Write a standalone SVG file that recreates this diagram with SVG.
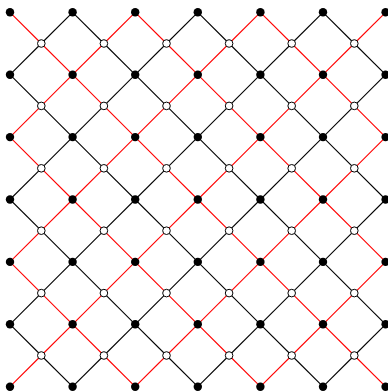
<svg xmlns="http://www.w3.org/2000/svg" width="388" height="392" viewBox="0 0 388 392">
<style>
.r{stroke:#ff0000;stroke-width:1.1;fill:none}
.k{stroke:#000000;stroke-width:1.1;fill:none}
.b{fill:#000000}
.w{fill:#ffffff;stroke:#000000;stroke-width:1}
</style>
<rect width="388" height="392" fill="#ffffff"/>
<g id="connectors">
<!-- row j=0, wy=43.5 -->
<path class="r" d="M41.3 43.5l-31.3-31.2"/><path class="r" d="M41.3 43.5l31.3 31.2"/><path class="k" d="M41.3 43.5l31.3-31.2"/><path class="k" d="M41.3 43.5l-31.3 31.2"/>
<path class="k" d="M103.9 43.5l-31.3-31.2"/><path class="k" d="M103.9 43.5l31.3 31.2"/><path class="r" d="M103.9 43.5l31.3-31.2"/><path class="r" d="M103.9 43.5l-31.3 31.2"/>
<path class="r" d="M166.5 43.5l-31.3-31.2"/><path class="r" d="M166.5 43.5l31.3 31.2"/><path class="k" d="M166.5 43.5l31.3-31.2"/><path class="k" d="M166.5 43.5l-31.3 31.2"/>
<path class="k" d="M229.1 43.5l-31.3-31.2"/><path class="k" d="M229.1 43.5l31.3 31.2"/><path class="r" d="M229.1 43.5l31.3-31.2"/><path class="r" d="M229.1 43.5l-31.3 31.2"/>
<path class="r" d="M291.7 43.5l-31.3-31.2"/><path class="r" d="M291.7 43.5l31.3 31.2"/><path class="k" d="M291.7 43.5l31.3-31.2"/><path class="k" d="M291.7 43.5l-31.3 31.2"/>
<path class="k" d="M354.3 43.5l-31.3-31.2"/><path class="k" d="M354.3 43.5l31.3 31.2"/><path class="r" d="M354.3 43.5l31.3-31.2"/><path class="r" d="M354.3 43.5l-31.3 31.2"/>
<!-- row j=1, wy=105.9 -->
<path class="k" d="M41.3 105.9l-31.3-31.2"/><path class="k" d="M41.3 105.9l31.3 31.2"/><path class="r" d="M41.3 105.9l31.3-31.2"/><path class="r" d="M41.3 105.9l-31.3 31.2"/>
<path class="r" d="M103.9 105.9l-31.3-31.2"/><path class="r" d="M103.9 105.9l31.3 31.2"/><path class="k" d="M103.9 105.9l31.3-31.2"/><path class="k" d="M103.9 105.9l-31.3 31.2"/>
<path class="k" d="M166.5 105.9l-31.3-31.2"/><path class="k" d="M166.5 105.9l31.3 31.2"/><path class="r" d="M166.5 105.9l31.3-31.2"/><path class="r" d="M166.5 105.9l-31.3 31.2"/>
<path class="r" d="M229.1 105.9l-31.3-31.2"/><path class="r" d="M229.1 105.9l31.3 31.2"/><path class="k" d="M229.1 105.9l31.3-31.2"/><path class="k" d="M229.1 105.9l-31.3 31.2"/>
<path class="k" d="M291.7 105.9l-31.3-31.2"/><path class="k" d="M291.7 105.9l31.3 31.2"/><path class="r" d="M291.7 105.9l31.3-31.2"/><path class="r" d="M291.7 105.9l-31.3 31.2"/>
<path class="r" d="M354.3 105.9l-31.3-31.2"/><path class="r" d="M354.3 105.9l31.3 31.2"/><path class="k" d="M354.3 105.9l31.3-31.2"/><path class="k" d="M354.3 105.9l-31.3 31.2"/>
<!-- row j=2, wy=168.3 -->
<path class="r" d="M41.3 168.3l-31.3-31.2"/><path class="r" d="M41.3 168.3l31.3 31.2"/><path class="k" d="M41.3 168.3l31.3-31.2"/><path class="k" d="M41.3 168.3l-31.3 31.2"/>
<path class="k" d="M103.9 168.3l-31.3-31.2"/><path class="k" d="M103.9 168.3l31.3 31.2"/><path class="r" d="M103.9 168.3l31.3-31.2"/><path class="r" d="M103.9 168.3l-31.3 31.2"/>
<path class="r" d="M166.5 168.3l-31.3-31.2"/><path class="r" d="M166.5 168.3l31.3 31.2"/><path class="k" d="M166.5 168.3l31.3-31.2"/><path class="k" d="M166.5 168.3l-31.3 31.2"/>
<path class="k" d="M229.1 168.3l-31.3-31.2"/><path class="k" d="M229.1 168.3l31.3 31.2"/><path class="r" d="M229.1 168.3l31.3-31.2"/><path class="r" d="M229.1 168.3l-31.3 31.2"/>
<path class="r" d="M291.7 168.3l-31.3-31.2"/><path class="r" d="M291.7 168.3l31.3 31.2"/><path class="k" d="M291.7 168.3l31.3-31.2"/><path class="k" d="M291.7 168.3l-31.3 31.2"/>
<path class="k" d="M354.3 168.3l-31.3-31.2"/><path class="k" d="M354.3 168.3l31.3 31.2"/><path class="r" d="M354.3 168.3l31.3-31.2"/><path class="r" d="M354.3 168.3l-31.3 31.2"/>
<!-- row j=3, wy=230.7 -->
<path class="k" d="M41.3 230.7l-31.3-31.2"/><path class="k" d="M41.3 230.7l31.3 31.2"/><path class="r" d="M41.3 230.7l31.3-31.2"/><path class="r" d="M41.3 230.7l-31.3 31.2"/>
<path class="r" d="M103.9 230.7l-31.3-31.2"/><path class="r" d="M103.9 230.7l31.3 31.2"/><path class="k" d="M103.9 230.7l31.3-31.2"/><path class="k" d="M103.9 230.7l-31.3 31.2"/>
<path class="k" d="M166.5 230.7l-31.3-31.2"/><path class="k" d="M166.5 230.7l31.3 31.2"/><path class="r" d="M166.5 230.7l31.3-31.2"/><path class="r" d="M166.5 230.7l-31.3 31.2"/>
<path class="r" d="M229.1 230.7l-31.3-31.2"/><path class="r" d="M229.1 230.7l31.3 31.2"/><path class="k" d="M229.1 230.7l31.3-31.2"/><path class="k" d="M229.1 230.7l-31.3 31.2"/>
<path class="k" d="M291.7 230.7l-31.3-31.2"/><path class="k" d="M291.7 230.7l31.3 31.2"/><path class="r" d="M291.7 230.7l31.3-31.2"/><path class="r" d="M291.7 230.7l-31.3 31.2"/>
<path class="r" d="M354.3 230.7l-31.3-31.2"/><path class="r" d="M354.3 230.7l31.3 31.2"/><path class="k" d="M354.3 230.7l31.3-31.2"/><path class="k" d="M354.3 230.7l-31.3 31.2"/>
<!-- row j=4, wy=293.1 -->
<path class="r" d="M41.3 293.1l-31.3-31.2"/><path class="r" d="M41.3 293.1l31.3 31.2"/><path class="k" d="M41.3 293.1l31.3-31.2"/><path class="k" d="M41.3 293.1l-31.3 31.2"/>
<path class="k" d="M103.9 293.1l-31.3-31.2"/><path class="k" d="M103.9 293.1l31.3 31.2"/><path class="r" d="M103.9 293.1l31.3-31.2"/><path class="r" d="M103.9 293.1l-31.3 31.2"/>
<path class="r" d="M166.5 293.1l-31.3-31.2"/><path class="r" d="M166.5 293.1l31.3 31.2"/><path class="k" d="M166.5 293.1l31.3-31.2"/><path class="k" d="M166.5 293.1l-31.3 31.2"/>
<path class="k" d="M229.1 293.1l-31.3-31.2"/><path class="k" d="M229.1 293.1l31.3 31.2"/><path class="r" d="M229.1 293.1l31.3-31.2"/><path class="r" d="M229.1 293.1l-31.3 31.2"/>
<path class="r" d="M291.7 293.1l-31.3-31.2"/><path class="r" d="M291.7 293.1l31.3 31.2"/><path class="k" d="M291.7 293.1l31.3-31.2"/><path class="k" d="M291.7 293.1l-31.3 31.2"/>
<path class="k" d="M354.3 293.1l-31.3-31.2"/><path class="k" d="M354.3 293.1l31.3 31.2"/><path class="r" d="M354.3 293.1l31.3-31.2"/><path class="r" d="M354.3 293.1l-31.3 31.2"/>
<!-- row j=5, wy=355.5 -->
<path class="k" d="M41.3 355.5l-31.3-31.2"/><path class="k" d="M41.3 355.5l31.3 31.2"/><path class="r" d="M41.3 355.5l31.3-31.2"/><path class="r" d="M41.3 355.5l-31.3 31.2"/>
<path class="r" d="M103.9 355.5l-31.3-31.2"/><path class="r" d="M103.9 355.5l31.3 31.2"/><path class="k" d="M103.9 355.5l31.3-31.2"/><path class="k" d="M103.9 355.5l-31.3 31.2"/>
<path class="k" d="M166.5 355.5l-31.3-31.2"/><path class="k" d="M166.5 355.5l31.3 31.2"/><path class="r" d="M166.5 355.5l31.3-31.2"/><path class="r" d="M166.5 355.5l-31.3 31.2"/>
<path class="r" d="M229.1 355.5l-31.3-31.2"/><path class="r" d="M229.1 355.5l31.3 31.2"/><path class="k" d="M229.1 355.5l31.3-31.2"/><path class="k" d="M229.1 355.5l-31.3 31.2"/>
<path class="k" d="M291.7 355.5l-31.3-31.2"/><path class="k" d="M291.7 355.5l31.3 31.2"/><path class="r" d="M291.7 355.5l31.3-31.2"/><path class="r" d="M291.7 355.5l-31.3 31.2"/>
<path class="r" d="M354.3 355.5l-31.3-31.2"/><path class="r" d="M354.3 355.5l31.3 31.2"/><path class="k" d="M354.3 355.5l31.3-31.2"/><path class="k" d="M354.3 355.5l-31.3 31.2"/>
</g>
<g id="black-nodes">
<g id="b0-0"><circle class="b" cx="10" cy="12.3" r="4.2"/></g>
<g id="b1-0"><circle class="b" cx="72.6" cy="12.3" r="4.2"/></g>
<g id="b2-0"><circle class="b" cx="135.2" cy="12.3" r="4.2"/></g>
<g id="b3-0"><circle class="b" cx="197.8" cy="12.3" r="4.2"/></g>
<g id="b4-0"><circle class="b" cx="260.4" cy="12.3" r="4.2"/></g>
<g id="b5-0"><circle class="b" cx="323" cy="12.3" r="4.2"/></g>
<g id="b6-0"><circle class="b" cx="385.6" cy="12.3" r="4.2"/></g>
<g id="b0-1"><circle class="b" cx="10" cy="74.7" r="4.2"/></g>
<g id="b1-1"><circle class="b" cx="72.6" cy="74.7" r="4.2"/></g>
<g id="b2-1"><circle class="b" cx="135.2" cy="74.7" r="4.2"/></g>
<g id="b3-1"><circle class="b" cx="197.8" cy="74.7" r="4.2"/></g>
<g id="b4-1"><circle class="b" cx="260.4" cy="74.7" r="4.2"/></g>
<g id="b5-1"><circle class="b" cx="323" cy="74.7" r="4.2"/></g>
<g id="b6-1"><circle class="b" cx="385.6" cy="74.7" r="4.2"/></g>
<g id="b0-2"><circle class="b" cx="10" cy="137.1" r="4.2"/></g>
<g id="b1-2"><circle class="b" cx="72.6" cy="137.1" r="4.2"/></g>
<g id="b2-2"><circle class="b" cx="135.2" cy="137.1" r="4.2"/></g>
<g id="b3-2"><circle class="b" cx="197.8" cy="137.1" r="4.2"/></g>
<g id="b4-2"><circle class="b" cx="260.4" cy="137.1" r="4.2"/></g>
<g id="b5-2"><circle class="b" cx="323" cy="137.1" r="4.2"/></g>
<g id="b6-2"><circle class="b" cx="385.6" cy="137.1" r="4.2"/></g>
<g id="b0-3"><circle class="b" cx="10" cy="199.5" r="4.2"/></g>
<g id="b1-3"><circle class="b" cx="72.6" cy="199.5" r="4.2"/></g>
<g id="b2-3"><circle class="b" cx="135.2" cy="199.5" r="4.2"/></g>
<g id="b3-3"><circle class="b" cx="197.8" cy="199.5" r="4.2"/></g>
<g id="b4-3"><circle class="b" cx="260.4" cy="199.5" r="4.2"/></g>
<g id="b5-3"><circle class="b" cx="323" cy="199.5" r="4.2"/></g>
<g id="b6-3"><circle class="b" cx="385.6" cy="199.5" r="4.2"/></g>
<g id="b0-4"><circle class="b" cx="10" cy="261.9" r="4.2"/></g>
<g id="b1-4"><circle class="b" cx="72.6" cy="261.9" r="4.2"/></g>
<g id="b2-4"><circle class="b" cx="135.2" cy="261.9" r="4.2"/></g>
<g id="b3-4"><circle class="b" cx="197.8" cy="261.9" r="4.2"/></g>
<g id="b4-4"><circle class="b" cx="260.4" cy="261.9" r="4.2"/></g>
<g id="b5-4"><circle class="b" cx="323" cy="261.9" r="4.2"/></g>
<g id="b6-4"><circle class="b" cx="385.6" cy="261.9" r="4.2"/></g>
<g id="b0-5"><circle class="b" cx="10" cy="324.3" r="4.2"/></g>
<g id="b1-5"><circle class="b" cx="72.6" cy="324.3" r="4.2"/></g>
<g id="b2-5"><circle class="b" cx="135.2" cy="324.3" r="4.2"/></g>
<g id="b3-5"><circle class="b" cx="197.8" cy="324.3" r="4.2"/></g>
<g id="b4-5"><circle class="b" cx="260.4" cy="324.3" r="4.2"/></g>
<g id="b5-5"><circle class="b" cx="323" cy="324.3" r="4.2"/></g>
<g id="b6-5"><circle class="b" cx="385.6" cy="324.3" r="4.2"/></g>
<g id="b0-6"><circle class="b" cx="10" cy="386.7" r="4.2"/></g>
<g id="b1-6"><circle class="b" cx="72.6" cy="386.7" r="4.2"/></g>
<g id="b2-6"><circle class="b" cx="135.2" cy="386.7" r="4.2"/></g>
<g id="b3-6"><circle class="b" cx="197.8" cy="386.7" r="4.2"/></g>
<g id="b4-6"><circle class="b" cx="260.4" cy="386.7" r="4.2"/></g>
<g id="b5-6"><circle class="b" cx="323" cy="386.7" r="4.2"/></g>
<g id="b6-6"><circle class="b" cx="385.6" cy="386.7" r="4.2"/></g>
</g>
<g id="white-nodes">
<g id="w0-0"><circle class="w" cx="41.3" cy="43.5" r="3.8"/></g>
<g id="w1-0"><circle class="w" cx="103.9" cy="43.5" r="3.8"/></g>
<g id="w2-0"><circle class="w" cx="166.5" cy="43.5" r="3.8"/></g>
<g id="w3-0"><circle class="w" cx="229.1" cy="43.5" r="3.8"/></g>
<g id="w4-0"><circle class="w" cx="291.7" cy="43.5" r="3.8"/></g>
<g id="w5-0"><circle class="w" cx="354.3" cy="43.5" r="3.8"/></g>
<g id="w0-1"><circle class="w" cx="41.3" cy="105.9" r="3.8"/></g>
<g id="w1-1"><circle class="w" cx="103.9" cy="105.9" r="3.8"/></g>
<g id="w2-1"><circle class="w" cx="166.5" cy="105.9" r="3.8"/></g>
<g id="w3-1"><circle class="w" cx="229.1" cy="105.9" r="3.8"/></g>
<g id="w4-1"><circle class="w" cx="291.7" cy="105.9" r="3.8"/></g>
<g id="w5-1"><circle class="w" cx="354.3" cy="105.9" r="3.8"/></g>
<g id="w0-2"><circle class="w" cx="41.3" cy="168.3" r="3.8"/></g>
<g id="w1-2"><circle class="w" cx="103.9" cy="168.3" r="3.8"/></g>
<g id="w2-2"><circle class="w" cx="166.5" cy="168.3" r="3.8"/></g>
<g id="w3-2"><circle class="w" cx="229.1" cy="168.3" r="3.8"/></g>
<g id="w4-2"><circle class="w" cx="291.7" cy="168.3" r="3.8"/></g>
<g id="w5-2"><circle class="w" cx="354.3" cy="168.3" r="3.8"/></g>
<g id="w0-3"><circle class="w" cx="41.3" cy="230.7" r="3.8"/></g>
<g id="w1-3"><circle class="w" cx="103.9" cy="230.7" r="3.8"/></g>
<g id="w2-3"><circle class="w" cx="166.5" cy="230.7" r="3.8"/></g>
<g id="w3-3"><circle class="w" cx="229.1" cy="230.7" r="3.8"/></g>
<g id="w4-3"><circle class="w" cx="291.7" cy="230.7" r="3.8"/></g>
<g id="w5-3"><circle class="w" cx="354.3" cy="230.7" r="3.8"/></g>
<g id="w0-4"><circle class="w" cx="41.3" cy="293.1" r="3.8"/></g>
<g id="w1-4"><circle class="w" cx="103.9" cy="293.1" r="3.8"/></g>
<g id="w2-4"><circle class="w" cx="166.5" cy="293.1" r="3.8"/></g>
<g id="w3-4"><circle class="w" cx="229.1" cy="293.1" r="3.8"/></g>
<g id="w4-4"><circle class="w" cx="291.7" cy="293.1" r="3.8"/></g>
<g id="w5-4"><circle class="w" cx="354.3" cy="293.1" r="3.8"/></g>
<g id="w0-5"><circle class="w" cx="41.3" cy="355.5" r="3.8"/></g>
<g id="w1-5"><circle class="w" cx="103.9" cy="355.5" r="3.8"/></g>
<g id="w2-5"><circle class="w" cx="166.5" cy="355.5" r="3.8"/></g>
<g id="w3-5"><circle class="w" cx="229.1" cy="355.5" r="3.8"/></g>
<g id="w4-5"><circle class="w" cx="291.7" cy="355.5" r="3.8"/></g>
<g id="w5-5"><circle class="w" cx="354.3" cy="355.5" r="3.8"/></g>
</g>
</svg>
